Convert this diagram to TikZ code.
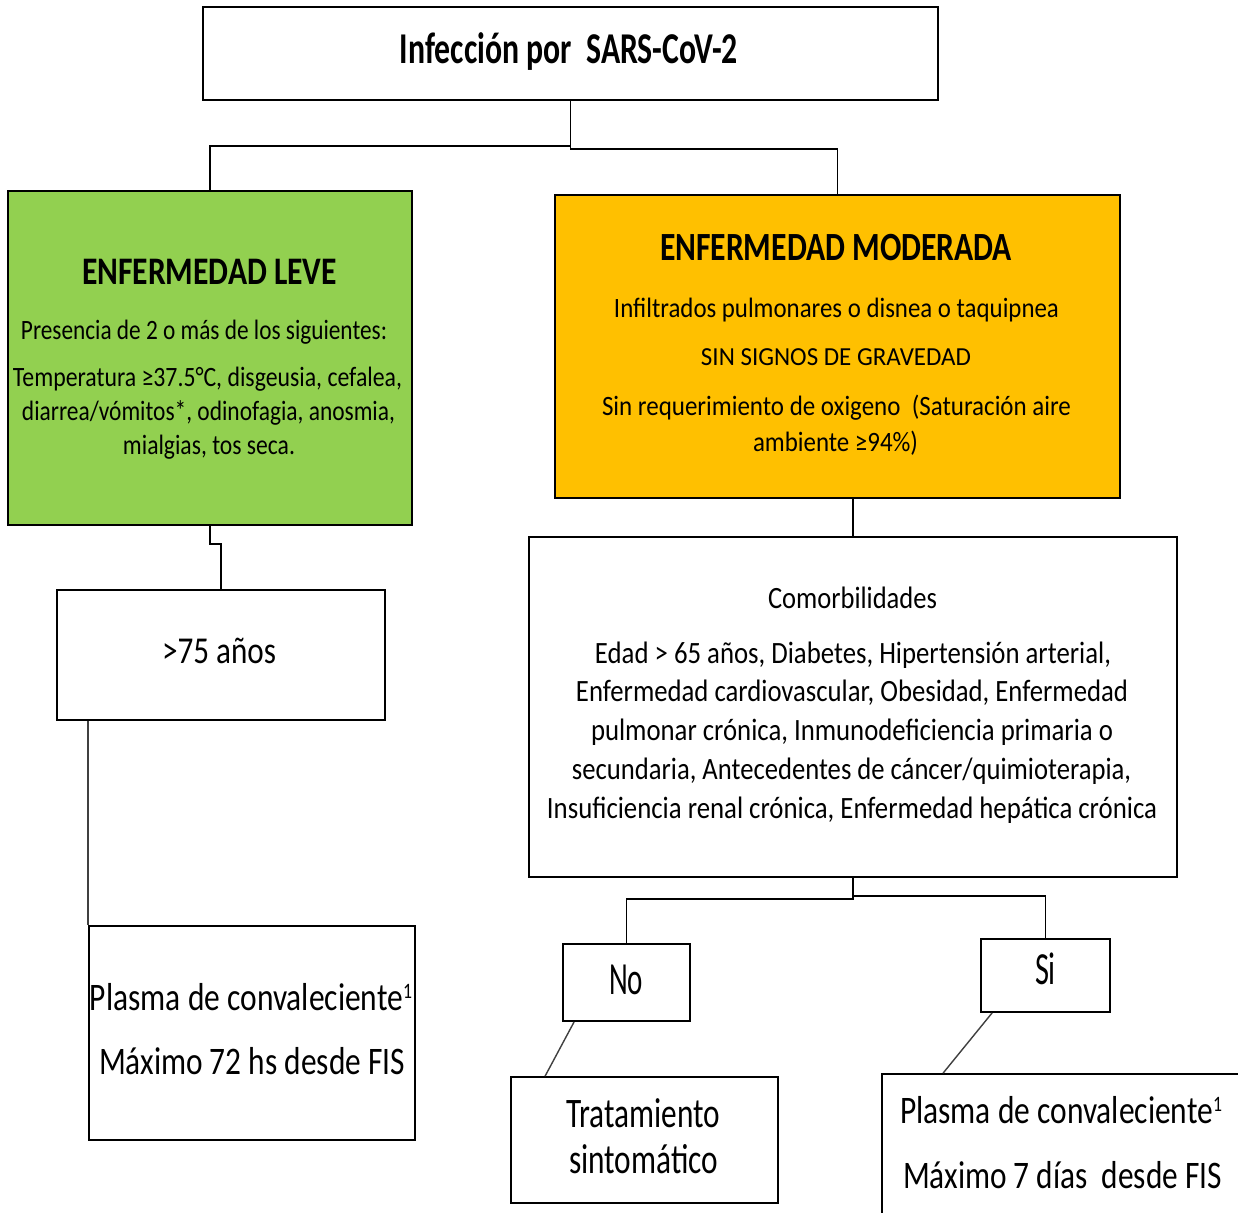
\documentclass[tikz,border=0pt]{standalone}
\usepackage{fontspec}
\usepackage{graphicx}
\setmainfont{Carlito}
\usetikzlibrary{fit}
\definecolor{leveG}{HTML}{92D050}
\definecolor{modO}{HTML}{FFC000}
\newcommand\fitw[2]{\resizebox{#1}{\height}{#2}}
\newcommand\supone{\raisebox{0.3em}{\fontsize{11}{11}\selectfont 1}}
\tikzset{
  box/.style={draw=black, line width=0.9pt, inner sep=0pt, rectangle},
  conn/.style={draw=black, line width=0.75pt},
  diag/.style={draw=black!75, line width=0.7pt},
  txt/.style={inner sep=0pt, anchor=base},
  fA/.style={font=\fontsize{14}{17}\selectfont},
  fB/.style={font=\fontsize{19.5}{23}\selectfont\bfseries},
  fP/.style={font=\fontsize{19.5}{23}\selectfont},
  fC/.style={font=\fontsize{15.5}{18}\selectfont},
}
\begin{document}
\begin{tikzpicture}[x=0.5pt,y=-0.5pt]
\useasboundingbox (0,0) rectangle (1238,1213);
\fill[white] (0,0) rectangle (1238,1213);
% boxes
\node[box, fit={(203,7) (938,100)}] (top) {};
\node[box, fill=leveG, fit={(8,191) (412,525)}] (leve) {};
\node[box, fill=modO, fit={(555,195) (1120,498)}] (mod) {};
\node[box, fit={(57,590) (385,720)}] (age) {};
\node[box, fit={(89,926) (415,1140)}] (plasmaA) {};
\node[box, fit={(529,537) (1177,877)}] (comorb) {};
\node[box, fit={(563,944) (690,1021)}] (no) {};
\node[box, fit={(981,939) (1110,1012)}] (si) {};
\node[box, fit={(511,1077) (778,1203)}] (trat) {};
\node[box, fit={(882,1074) (1260,1240)}] (plasmaB) {};
% connectors
\draw[conn] (top.south) -- ++(0,45) -| (leve.north);
\draw[conn] (top.south) -- ++(0,48) -| (mod.north);
\draw[conn] (leve.south) -- ++(0,18) -| (age.north);
\draw[diag] (plasmaA.north west |- age.south) -- (plasmaA.north west);
\draw[conn] (comorb.north |- mod.south) -- (comorb.north);
\draw[conn] (comorb.south) -- ++(0,21) -| (no.north);
\draw[conn] (comorb.south) -- ++(0,18) -| (si.north);
\draw[diag] ([xshift=6pt]no.south west) -- ([xshift=17.5pt]trat.north west);
\draw[diag] ([xshift=6pt]si.south west) -- ([xshift=31pt]plasmaB.north west);
% texts
\node[txt, font=\fontsize{22}{26}\selectfont\bfseries] (t1) at (569,64) {\fitw{169pt}{Infección por~~SARS-CoV-2}};
\node[txt, fB] (t2) at (209.5,285) {\fitw{127.5pt}{ENFERMEDAD LEVE}};
\node[txt, fA] (t3) at (204,340) {\fitw{183pt}{Presencia de 2 o más de los siguientes:}};
\node[txt, fA] (t4) at (207.5,387) {\fitw{194.5pt}{Temperatura ≥37.5°C, disgeusia, cefalea,}};
\node[txt, fA] (t5) at (208.5,421) {\fitw{186.5pt}{diarrea/vómitos*, odinofagia, anosmia,}};
\node[txt, fA] (t6) at (209,455) {\fitw{86pt}{mialgias, tos seca.}};
\node[txt, font=\fontsize{20}{24}\selectfont\bfseries] (t7) at (836,261) {\fitw{176pt}{ENFERMEDAD MODERADA}};
\node[txt, fA] (t8) at (836.5,318) {\fitw{222.5pt}{Infiltrados pulmonares o disnea o taquipnea}};
\node[txt, font=\fontsize{13}{16}\selectfont] (t9) at (836,366) {\fitw{135pt}{SIN SIGNOS DE GRAVEDAD}};
\node[txt, fA] (t10) at (836.5,416) {\fitw{234.5pt}{Sin requerimiento de oxigeno~~(Saturación aire}};
\node[txt, fA] (t11) at (835.5,452) {\fitw{82.5pt}{ambiente ≥94\%)}};
\node[txt, font=\fontsize{19}{23}\selectfont] (t12) at (219,664) {\fitw{57pt}{>75 años}};
\node[txt, fP] (t13) at (251,1010) {\fitw{161pt}{Plasma de convaleciente\supone}};
\node[txt, fP] (t14) at (252,1074) {\fitw{153pt}{Máximo 72 hs desde FIS}};
\node[txt, fC] (t15) at (852.5,609) {\fitw{84.5pt}{Comorbilidades}};
\node[txt, fC] (t16) at (853,664) {\fitw{258pt}{Edad > 65 años, Diabetes, Hipertensión arterial,}};
\node[txt, fC] (t17) at (852,702) {\fitw{276pt}{Enfermedad cardiovascular, Obesidad, Enfermedad}};
\node[txt, fC] (t18) at (852,741) {\fitw{261pt}{pulmonar crónica, Inmunodeficiencia primaria o}};
\node[txt, fC] (t19) at (851.5,780) {\fitw{279.5pt}{secundaria, Antecedentes de cáncer/quimioterapia,}};
\node[txt, fC] (t20) at (852,819) {\fitw{305pt}{Insuficiencia renal crónica, Enfermedad hepática crónica}};
\node[txt, font=\fontsize{23}{27}\selectfont] (t21) at (626,994) {\fitw{17pt}{No}};
\node[txt, font=\fontsize{23}{27}\selectfont] (t22) at (1045.5,985) {\fitw{10.5pt}{Si}};
\node[txt, font=\fontsize{21}{25}\selectfont] (t23) at (643,1127) {\fitw{77pt}{Tratamiento}};
\node[txt, font=\fontsize{21}{25}\selectfont] (t24) at (643.5,1173) {\fitw{74.5pt}{sintomático}};
\node[txt, fP] (t25) at (1061,1123) {\fitw{161pt}{Plasma de convaleciente\supone}};
\node[txt, fP] (t26) at (1062.5,1188) {\fitw{159.5pt}{Máximo 7 días~~desde FIS}};
\end{tikzpicture}
\end{document}
